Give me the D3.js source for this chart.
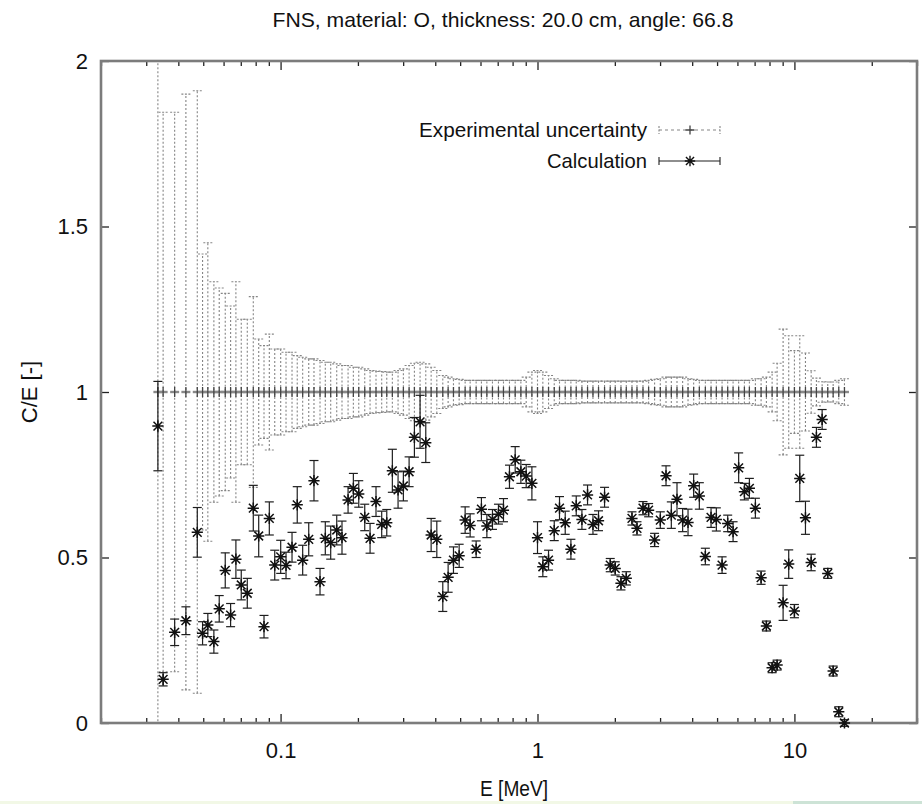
<!DOCTYPE html>
<html>
<head>
<meta charset="utf-8">
<script src="https://cdn.jsdelivr.net/npm/d3@7"></script>
<style>
  html, body { margin: 0; padding: 0; background: #ffffff; }
  svg { display: block; }
  text { font-family: "Liberation Sans", Arial, Helvetica, sans-serif; fill: #111; }
</style>
</head>
<body>
<svg id="chart" width="922" height="804"></svg>
<script>
// ---- data ----
const titleText = "FNS,  material: O,  thickness: 20.0 cm,  angle: 66.8";
const xLabel = "E [MeV]";
const yLabel = "C/E [-]";
const seriesNames = ["Experimental uncertainty", "Calculation"];
const xMajorTicks = [0.1, 1, 10];
const xTickLabels = ["0.1", "1", "10"];
const yTicks = [0, 0.5, 1, 1.5, 2];
const yTickLabels = ["0", "0.5", "1", "1.5", "2"];

const energy = [0.0333,0.0349,0.0387,0.0428,0.0474,0.0497,0.0521,0.0550,0.0577,0.0609,
  0.0639,0.0670,0.0703,0.0742,0.0783,0.0822,0.0862,0.0904,0.0949,0.1001,
  0.1050,0.1108,0.1161,0.1219,0.1287,0.1349,0.1424,0.1493,0.1567,0.1654,
  0.1734,0.1831,0.1920,0.2015,0.2126,0.2230,0.2352,0.2475,0.2590,0.2723,
  0.2866,0.3006,0.3164,0.3318,0.3491,0.3674,0.3855,0.4056,0.4279,0.4489,
  0.4709,0.4955,0.5228,0.5468,0.5770,0.6050,0.6352,0.6679,0.7047,0.7372,
  0.7778,0.8187,0.8616,0.9036,0.9510,1.000,1.049,1.104,1.162,1.218,
  1.282,1.349,1.415,1.489,1.566,1.644,1.728,1.824,1.919,2.007,
  2.113,2.216,2.332,2.439,2.574,2.707,2.856,3.006,3.164,3.318,
  3.491,3.672,3.854,4.053,4.265,4.501,4.737,4.967,5.229,5.499,
  5.771,6.067,6.387,6.679,7.048,7.418,7.779,8.188,8.564,9.036,
  9.502,10.00,10.49,11.04,11.62,12.18,12.82,13.48,14.15,14.88,15.66];

const calc = [0.897,0.132,0.274,0.309,0.576,0.271,0.296,0.246,0.345,0.461,
  0.326,0.495,0.417,0.392,0.649,0.565,0.291,0.618,0.477,0.502,
  0.476,0.531,0.659,0.492,0.555,0.732,0.427,0.558,0.545,0.583,
  0.560,0.674,0.709,0.692,0.621,0.558,0.669,0.600,0.605,0.762,
  0.704,0.716,0.759,0.863,0.910,0.847,0.568,0.555,0.382,0.440,
  0.492,0.505,0.613,0.597,0.525,0.646,0.595,0.615,0.631,0.643,
  0.744,0.795,0.759,0.746,0.724,0.560,0.472,0.492,0.581,0.649,
  0.605,0.525,0.656,0.615,0.689,0.600,0.611,0.682,0.477,0.467,
  0.422,0.437,0.618,0.588,0.649,0.643,0.553,0.613,0.747,0.628,
  0.676,0.613,0.606,0.717,0.686,0.503,0.621,0.615,0.477,0.603,
  0.578,0.771,0.699,0.709,0.649,0.439,0.293,0.167,0.175,0.363,
  0.480,0.338,0.739,0.620,0.485,0.863,0.917,0.452,0.157,0.034,0.0];

const calcErr = [0.135,0.02,0.04,0.042,0.075,0.035,0.035,0.035,0.04,0.053,
  0.035,0.058,0.045,0.045,0.069,0.063,0.034,0.05,0.045,0.05,
  0.04,0.045,0.055,0.045,0.05,0.061,0.04,0.05,0.05,0.045,
  0.05,0.04,0.045,0.04,0.04,0.045,0.045,0.04,0.04,0.065,
  0.055,0.045,0.045,0.06,0.08,0.06,0.05,0.055,0.045,0.045,
  0.04,0.035,0.04,0.035,0.025,0.035,0.035,0.03,0.03,0.035,
  0.035,0.04,0.035,0.035,0.05,0.048,0.03,0.03,0.03,0.035,
  0.035,0.03,0.03,0.03,0.03,0.03,0.03,0.03,0.02,0.02,
  0.02,0.02,0.02,0.02,0.02,0.02,0.02,0.025,0.03,0.04,
  0.05,0.035,0.04,0.035,0.04,0.025,0.03,0.035,0.025,0.025,
  0.03,0.045,0.025,0.03,0.03,0.02,0.015,0.015,0.015,0.053,
  0.043,0.02,0.07,0.05,0.025,0.03,0.03,0.015,0.015,0.015,0.01];

const expErr = [1.2,0.845,0.845,0.90,0.91,0.417,0.451,0.333,0.314,0.298,
  0.26,0.333,0.22,0.22,0.288,0.16,0.14,0.175,0.13,0.13,
  0.12,0.12,0.11,0.105,0.10,0.10,0.095,0.09,0.09,0.085,
  0.08,0.08,0.075,0.075,0.07,0.065,0.063,0.062,0.06,0.06,
  0.065,0.07,0.08,0.087,0.09,0.085,0.075,0.065,0.05,0.045,
  0.04,0.038,0.035,0.035,0.035,0.035,0.035,0.035,0.035,0.035,
  0.035,0.035,0.035,0.045,0.06,0.065,0.06,0.05,0.04,0.035,
  0.035,0.035,0.035,0.033,0.033,0.033,0.033,0.033,0.033,0.033,
  0.033,0.033,0.033,0.033,0.033,0.035,0.038,0.04,0.045,0.045,
  0.045,0.045,0.04,0.038,0.035,0.035,0.035,0.035,0.035,0.035,
  0.035,0.035,0.035,0.035,0.04,0.04,0.045,0.06,0.087,0.19,
  0.17,0.125,0.17,0.118,0.064,0.042,0.031,0.03,0.03,0.035,0.04];

const expCentre = 1;

// ---- layout ----
const svg = d3.select("#chart");
const L = 101, R = 917, T = 61, B = 723;
const x = d3.scaleLog().domain([0.02, 30]).range([L, R]);
const y = d3.scaleLinear().domain([0, 2]).range([B, T]);

// bottom coloured strip
svg.append("rect").attr("x", 0).attr("y", 801).attr("width", 922).attr("height", 3).attr("fill", "#f2f8e6");
svg.append("rect").attr("x", 793).attr("y", 801).attr("width", 129).attr("height", 3).attr("fill", "#cde3d6");

// clip
svg.append("defs").append("clipPath").attr("id", "plotclip")
  .append("rect").attr("x", L).attr("y", T).attr("width", R - L).attr("height", B - T);

// minor ticks
const minorTicks = [];
[0.01, 0.1, 1, 10].forEach(d => { for (let k = 2; k <= 9; k++) { const v = d * k; if (v >= 0.02 && v <= 30 && xMajorTicks.indexOf(v) < 0) minorTicks.push(v); } });

function styleAxis(g) {
  g.select(".domain").remove();
  g.selectAll(".tick line").attr("stroke", "#222").attr("stroke-width", 1.3);
  g.selectAll(".tick text").style("font-size", "22px").attr("fill", "#111")
    .style("font-family", '"Liberation Sans", Arial, Helvetica, sans-serif');
}

// x axes (ticks inward)
svg.append("g").attr("transform", `translate(0,${B})`)
  .call(d3.axisBottom(x).tickValues(xMajorTicks).tickFormat((d, i) => xTickLabels[i]).tickSize(-9).tickPadding(19))
  .call(styleAxis);
svg.append("g").attr("transform", `translate(0,${B})`)
  .call(d3.axisBottom(x).tickValues(minorTicks).tickFormat("").tickSize(-5))
  .call(styleAxis);
svg.append("g").attr("transform", `translate(0,${T})`)
  .call(d3.axisTop(x).tickValues(xMajorTicks).tickFormat("").tickSize(-9))
  .call(styleAxis);
svg.append("g").attr("transform", `translate(0,${T})`)
  .call(d3.axisTop(x).tickValues(minorTicks).tickFormat("").tickSize(-5))
  .call(styleAxis);

// y axes
svg.append("g").attr("transform", `translate(${L},0)`)
  .call(d3.axisLeft(y).tickValues(yTicks).tickFormat((d, i) => yTickLabels[i]).tickSize(-8).tickPadding(13))
  .call(styleAxis);
svg.append("g").attr("transform", `translate(${R},0)`)
  .call(d3.axisRight(y).tickValues(yTicks).tickFormat("").tickSize(-8))
  .call(styleAxis);

// frame
svg.append("rect").attr("x", L).attr("y", T).attr("width", R - L).attr("height", B - T)
  .attr("fill", "none").attr("stroke", "#7c7c7c").attr("stroke-width", 2.6);

const data = energy.map((e, i) => ({ e, c: calc[i], ce: calcErr[i], xe: expErr[i] }));

// experimental uncertainty
const gExp = svg.append("g").attr("clip-path", "url(#plotclip)");
const expStroke = "#858585";
gExp.selectAll(null).data(data).join("line")
  .attr("x1", d => x(d.e)).attr("x2", d => x(d.e))
  .attr("y1", d => y(expCentre - d.xe)).attr("y2", d => y(expCentre + d.xe))
  .attr("stroke", expStroke).attr("stroke-width", 1.1).attr("stroke-dasharray", "2,2");
[-1, 1].forEach(s => {
  gExp.selectAll(null).data(data).join("line")
    .attr("x1", d => x(d.e) - 4.5).attr("x2", d => x(d.e) + 4.5)
    .attr("y1", d => y(expCentre + s * d.xe)).attr("y2", d => y(expCentre + s * d.xe))
    .attr("stroke", expStroke).attr("stroke-width", 1.1).attr("stroke-dasharray", "2,1.5");
});
// "+" markers at C/E = 1
gExp.selectAll(null).data(data).join("path")
  .attr("d", d => { const cx = x(d.e), cy = y(expCentre); return `M${cx - 4.5},${cy}H${cx + 4.5}`; })
  .attr("stroke", "#888").attr("stroke-width", 2.4).attr("fill", "none");
gExp.selectAll(null).data(data).join("path")
  .attr("d", d => { const cx = x(d.e), cy = y(expCentre); return `M${cx},${cy - 5}V${cy + 5}`; })
  .attr("stroke", "#444").attr("stroke-width", 1.3).attr("fill", "none");

// calculation with error bars
const gCalc = svg.append("g");
const calcStroke = "#1e1e1e";
gCalc.selectAll(null).data(data).join("line")
  .attr("x1", d => x(d.e)).attr("x2", d => x(d.e))
  .attr("y1", d => y(d.c - d.ce)).attr("y2", d => y(d.c + d.ce))
  .attr("stroke", calcStroke).attr("stroke-width", 1.2);
[-1, 1].forEach(s => {
  gCalc.selectAll(null).data(data).join("line")
    .attr("x1", d => x(d.e) - 4.5).attr("x2", d => x(d.e) + 4.5)
    .attr("y1", d => y(d.c + s * d.ce)).attr("y2", d => y(d.c + s * d.ce))
    .attr("stroke", calcStroke).attr("stroke-width", 1.2);
});
function starPath(cx, cy, r) {
  const q = r * 0.78;
  return `M${cx - r},${cy}H${cx + r}M${cx},${cy - r}V${cy + r}M${cx - q},${cy - q}L${cx + q},${cy + q}M${cx - q},${cy + q}L${cx + q},${cy - q}`;
}
gCalc.selectAll(null).data(data).join("path")
  .attr("d", d => starPath(x(d.e), y(d.c), 5.6))
  .attr("stroke", "#111").attr("stroke-width", 1.5).attr("fill", "none");

// legend
const lg = svg.append("g");
const lx0 = 659, lx1 = 720, lxm = 690;
const ly = [130, 161];
lg.append("text").attr("x", 647).attr("y", 137).attr("text-anchor", "end")
  .style("font-size", "21px").attr("textLength", 228).attr("lengthAdjust", "spacingAndGlyphs").text(seriesNames[0]);
lg.append("text").attr("x", 647).attr("y", 168).attr("text-anchor", "end")
  .style("font-size", "21px").attr("textLength", 100).attr("lengthAdjust", "spacingAndGlyphs").text(seriesNames[1]);
lg.append("line").attr("x1", lx0).attr("x2", lx1).attr("y1", ly[0]).attr("y2", ly[0])
  .attr("stroke", expStroke).attr("stroke-width", 1.1).attr("stroke-dasharray", "3,3");
[lx0, lx1].forEach(xx => lg.append("line").attr("x1", xx).attr("x2", xx).attr("y1", ly[0] - 4).attr("y2", ly[0] + 4)
  .attr("stroke", expStroke).attr("stroke-width", 1.1).attr("stroke-dasharray", "2,1.5"));
lg.append("path").attr("d", `M${lxm - 4.5},${ly[0]}H${lxm + 4.5}M${lxm},${ly[0] - 4.5}V${ly[0] + 4.5}`)
  .attr("stroke", "#444").attr("stroke-width", 1.3);
lg.append("line").attr("x1", lx0).attr("x2", lx1).attr("y1", ly[1]).attr("y2", ly[1])
  .attr("stroke", calcStroke).attr("stroke-width", 1.1);
[lx0, lx1].forEach(xx => lg.append("line").attr("x1", xx).attr("x2", xx).attr("y1", ly[1] - 4).attr("y2", ly[1] + 4)
  .attr("stroke", calcStroke).attr("stroke-width", 1.1));
lg.append("path").attr("d", starPath(lxm, ly[1], 5.2)).attr("stroke", "#111").attr("stroke-width", 1.4).attr("fill", "none");

// title and axis labels
svg.append("text").attr("x", 503).attr("y", 27).attr("text-anchor", "middle")
  .style("font-size", "21px").attr("textLength", 461).attr("lengthAdjust", "spacingAndGlyphs").text(titleText);
svg.append("text").attr("x", 514).attr("y", 796).attr("text-anchor", "middle")
  .style("font-size", "22px").attr("textLength", 68).attr("lengthAdjust", "spacingAndGlyphs").text(xLabel);
svg.append("text").attr("transform", "translate(37,392) rotate(-90)").attr("text-anchor", "middle")
  .style("font-size", "22px").text(yLabel);
</script>
</body>
</html>
